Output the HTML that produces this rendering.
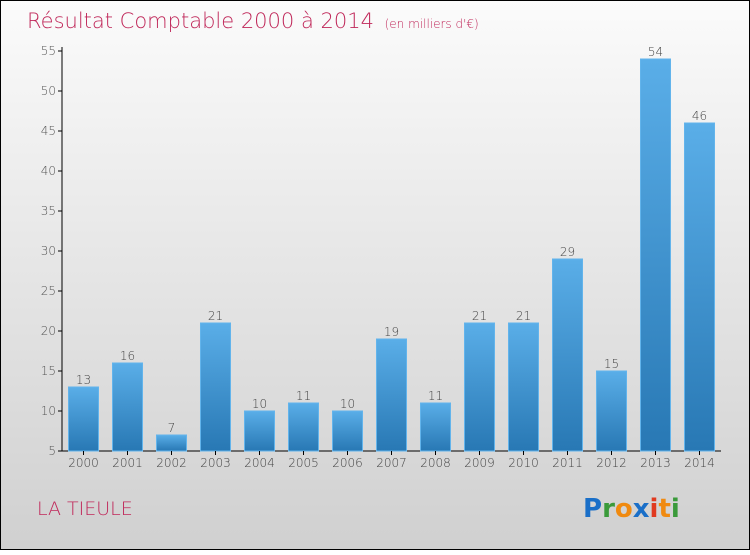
<!DOCTYPE html>
<html><head><meta charset="utf-8"><style>
body{margin:0;width:750px;height:550px;overflow:hidden;font-family:"DejaVu Sans","Liberation Sans",sans-serif}
#c{position:absolute;left:0;top:0;width:748px;height:548px;border:1px solid #000;background:linear-gradient(#fbfbfb,#f2f2f2 20%,#d0d0d0)}
</style></head><body>
<div id="c">
<svg width="750" height="550">
<defs><linearGradient id="g" x1="0" y1="0" x2="0" y2="1"><stop offset="0" stop-color="#5aaee8"/><stop offset="1" stop-color="#2878b4"/></linearGradient></defs>
<text x="26" y="27" font-size="21" fill="#c0285a" font-weight="200">Résultat Comptable 2000 à 2014 <tspan font-size="12" dx="4">(en milliers d'€)</tspan></text>
<g id="plot"></g>
<text x="36" y="514" font-size="19" fill="#c0285a" font-weight="200">LA TIEULE</text>
<text x="582" y="516" font-size="26" font-weight="bold"><tspan fill="#1a6fc8">P</tspan><tspan fill="#3a9a3a">r</tspan><tspan fill="#f08a10">o</tspan><tspan fill="#1a6fc8">x</tspan><tspan fill="#e03a20">i</tspan><tspan fill="#f08a10">t</tspan><tspan fill="#3a9a3a">i</tspan></text>
</svg></div>
<script>
const years=["2000","2001","2002","2003","2004","2005","2006","2007","2008","2009","2010","2011","2012","2013","2014"];
const values=[13,16,7,21,10,11,10,19,11,21,21,29,15,54,46];
const yTicks=[5,10,15,20,25,30,35,40,45,50,55];
const NS="http://www.w3.org/2000/svg";
const p=document.getElementById('plot');
const y=v=>450-(v-5)*8;
const x=i=>82.5+44*i;
function mk(t,a){const e=document.createElementNS(NS,t);for(const k in a)e.setAttribute(k,a[k]);p.appendChild(e);return e;}
let ax=mk('line',{x1:61,y1:46,x2:61,y2:450,stroke:'#000'});


let bx=mk('line',{x1:61,y1:450,x2:720,y2:450,stroke:'#000'});


yTicks.forEach(t=>{
 let l=mk('line',{x1:57,x2:61,y1:y(t),y2:y(t),stroke:'#000'});
 
 
 let tx=mk('text',{x:55,y:y(t)+4,'text-anchor':'end','font-size':12,fill:'#555','font-weight':200});
 tx.textContent=t;
 
 
});
years.forEach((yr,i)=>{
 const v=values[i];
 let r=mk('rect',{x:x(i)-15,y:y(v),width:30,height:450-y(v),fill:'url(#g)',stroke:'#62b4ec','stroke-width':1});
 
 
 let l=mk('text',{x:x(i),y:y(v)-3,'text-anchor':'middle','font-size':12,fill:'#444','font-weight':200});
 l.textContent=v;
 
 
 let tk=mk('line',{x1:x(i),x2:x(i),y1:450,y2:454,stroke:'#000'});
 
 
 let xl=mk('text',{x:x(i),y:466,'text-anchor':'middle','font-size':12,fill:'#444','font-weight':200});
 xl.textContent=yr;
 
 
});
</script>
</body></html>
